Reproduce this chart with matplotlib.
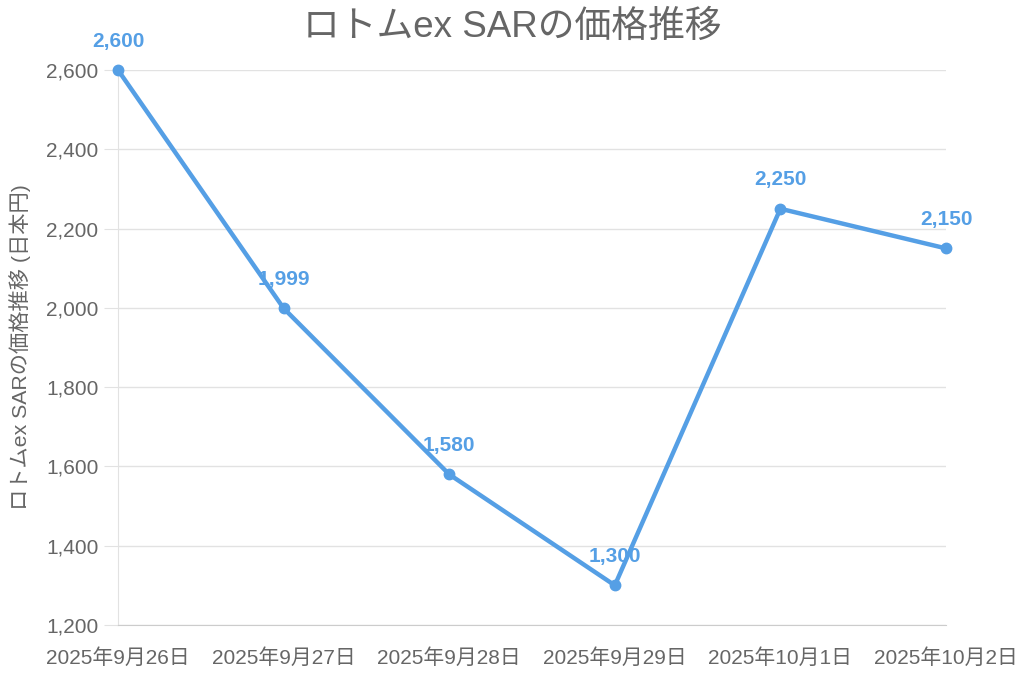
import matplotlib
matplotlib.use("Agg")
import matplotlib.pyplot as plt
from matplotlib.ticker import FuncFormatter

plt.rcParams['font.family'] = ['Liberation Sans', 'Noto Sans CJK JP', 'DejaVu Sans']

categories = ["2025年9月26日", "2025年9月27日", "2025年9月28日", "2025年9月29日", "2025年10月1日", "2025年10月2日"]
prices = [2600, 1999, 1580, 1300, 2250, 2150]
yticks = [1200, 1400, 1600, 1800, 2000, 2200, 2400, 2600]

color = "#559fe5"
gray_text = "#666666"
grid_c = "#e2e2e2"

fig = plt.figure(figsize=(10.24, 6.76), dpi=100)
ax = fig.add_axes([118/1024, 1-625/676, (946-118)/1024, (625-70)/676])

x = list(range(len(categories)))
ax.plot(x, prices, color=color, lw=3.2, marker='o', markersize=7.5, zorder=3, clip_on=False)
for xi, v in zip(x, prices):
    ax.annotate(f"{v:,}", (xi, v), xytext=(0, 14), textcoords='offset points',
                ha='center', va='bottom', color=color, fontsize=15, fontweight='bold')

ax.set_xlim(0, len(categories)-1)
ax.set_ylim(1200, 2600)
ax.set_yticks(yticks)
ax.yaxis.set_major_formatter(FuncFormatter(lambda v, p: f"{int(v):,}"))
ax.set_xticks(x)
ax.set_xticklabels(categories)
ax.grid(axis='y', color=grid_c, lw=1)
ax.set_axisbelow(True)
for s in ['top', 'right']:
    ax.spines[s].set_visible(False)
ax.spines['left'].set_color(grid_c)
ax.spines['bottom'].set_color("#cccccc")
ax.tick_params(axis='y', length=10, color=grid_c, labelsize=15, labelcolor=gray_text, pad=4)
ax.tick_params(axis='x', length=0, labelsize=15, labelcolor=gray_text, pad=17)
ax.set_ylabel("ロトムex SARの価格推移 (日本円)", fontsize=15.3, color=gray_text, labelpad=11)
fig.suptitle("ロトムex SARの価格推移", fontsize=26.5, color=gray_text, y=0.985)

fig.savefig("out.png", dpi=100)
